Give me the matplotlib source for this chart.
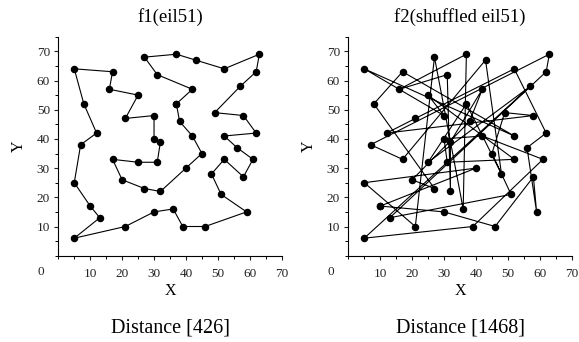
import numpy as np
import matplotlib.pyplot as plt
from matplotlib.ticker import MultipleLocator

plt.rcParams['font.family'] = ['Liberation Serif', 'DejaVu Serif']

# eil51 城市坐标 (编号 1..51)
city_x = [37, 49, 52, 20, 40, 21, 17, 31, 52, 51, 42, 31, 5, 12, 36, 52, 27, 17, 13, 57,
          62, 42, 16, 8, 7, 27, 30, 43, 58, 58, 37, 38, 46, 61, 62, 63, 32, 45, 59, 5,
          10, 21, 5, 30, 39, 32, 25, 25, 48, 56, 30]
city_y = [52, 49, 64, 26, 30, 47, 63, 62, 33, 21, 41, 32, 25, 42, 16, 41, 23, 33, 13, 58,
          42, 57, 57, 52, 38, 68, 48, 67, 48, 27, 69, 46, 10, 33, 63, 69, 22, 35, 15, 6,
          17, 10, 64, 15, 10, 39, 32, 55, 28, 37, 40]

# 访问顺序
tour_f1 = [1, 22, 8, 26, 31, 28, 3, 36, 35, 20, 2, 29, 21, 16, 50, 34, 30, 9, 49, 10,
           39, 33, 45, 15, 44, 42, 40, 19, 41, 13, 25, 14, 24, 43, 7, 23, 48, 6, 27, 51,
           46, 12, 47, 18, 4, 17, 37, 5, 38, 11, 32]
tour_f2 = [41, 44, 33, 30, 39, 50, 21, 3, 6, 14, 29, 2, 38, 10, 19, 35, 36, 25, 18, 28,
           49, 1, 47, 20, 40, 45, 34, 11, 51, 12, 9, 48, 27, 43, 16, 7, 24, 17, 4, 32,
           22, 46, 37, 8, 23, 31, 15, 26, 42, 13, 5]

titles = ['f1(eil51)', 'f2(shuffled eil51)']
distances = [426, 1468]
tours = [tour_f1, tour_f2]

x = np.array(city_x)
y = np.array(city_y)

fig = plt.figure(figsize=(5.79, 3.42), dpi=100)
lefts = [58.3 / 579, 348.3 / 579]
for k in range(2):
    ax = fig.add_axes([lefts[k], 86.3 / 342, 223.4 / 579, 219 / 342])
    idx = np.array(tours[k] + [tours[k][0]]) - 1
    ax.plot(x[idx], y[idx], '-', color='black', lw=0.8, marker='o', ms=4.4,
            mfc='black', mec='black')
    ax.set_xlim(0, 70)
    ax.set_ylim(0, 75)
    ax.spines['top'].set_visible(False)
    ax.spines['right'].set_visible(False)
    ax.xaxis.set_minor_locator(MultipleLocator(5))
    ax.yaxis.set_minor_locator(MultipleLocator(5))
    ax.set_xticks(range(10, 71, 10))
    ax.set_yticks(range(10, 71, 10))
    ax.tick_params(which='major', direction='out', length=3, width=0.8,
                   labelsize=9.5, colors='#222222')
    ax.tick_params(axis='x', which='major', pad=6)
    ax.tick_params(axis='y', which='major', pad=3)
    ax.tick_params(which='minor', direction='out', length=2, width=0.7)
    ax.text(-0.065, -0.045, '0', transform=ax.transAxes, ha='right', va='top',
            fontsize=9.5, color='#222222')
    ax.set_xlabel('X', fontsize=11.5, labelpad=2)
    ax.set_ylabel('Y', fontsize=11.5, labelpad=7)
    cx = lefts[k] + 223.4 / 579 / 2
    fig.text(cx, 1 - 17 / 342, titles[k], ha='center', va='center', fontsize=13.5)
    fig.text(cx, 1 - 328 / 342, 'Distance [%d]' % distances[k], ha='center',
             va='center', fontsize=14.5)

fig.savefig('out.png', dpi=100)
